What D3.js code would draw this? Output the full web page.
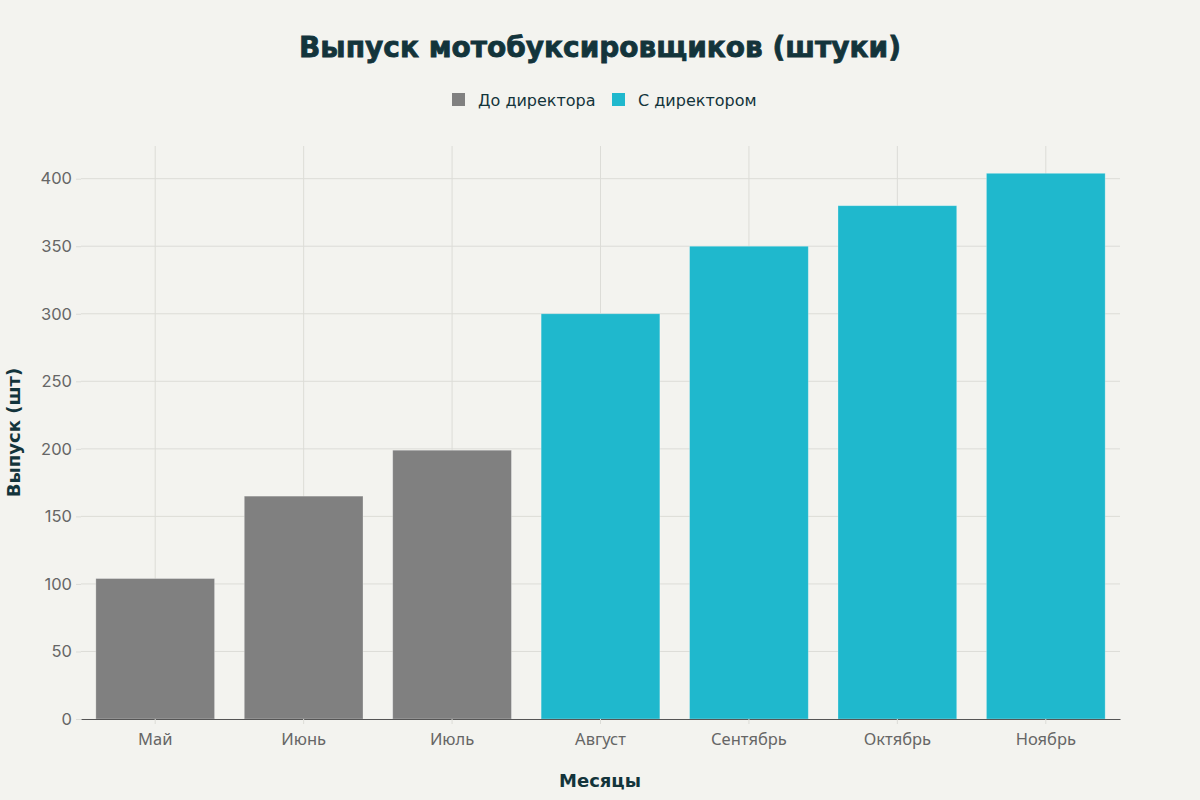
<!DOCTYPE html>
<html><head><meta charset="utf-8">
<script src="https://cdn.jsdelivr.net/npm/d3@7/dist/d3.min.js"></script>
<style>body{margin:0;background:#F3F3EF;}svg{display:block;}</style>
</head><body>
<script>
const months = ["Май","Июнь","Июль","Август","Сентябрь","Октябрь","Ноябрь"];
const values = [104,165,199,300,350,380,404];
const groups = ["До директора","До директора","До директора","С директором","С директором","С директором","С директором"];
const seriesNames = ["До директора","С директором"];
const seriesColors = ["#808080","#1FB8CD"];
const yTicks = [0,50,100,150,200,250,300,350,400];

const W=1200,H=800;
const m={l:81,r:80,t:146,b:81};
const svg=d3.select("body").append("svg").attr("width",W).attr("height",H);
svg.append("rect").attr("width",W).attr("height",H).attr("fill","#F3F3EF");

const x=d3.scaleBand().domain(months).range([m.l,W-m.r]).paddingInner(0.2).paddingOuter(0.1);
const y=d3.scaleLinear().domain([0,424.2]).range([H-m.b,m.t]);
const color=d3.scaleOrdinal().domain(seriesNames).range(seriesColors);

const g=svg.append("g");
g.selectAll(".hg").data(yTicks.filter(d=>d>0)).join("line")
 .attr("x1",m.l).attr("x2",W-m.r).attr("y1",d=>y(d)).attr("y2",d=>y(d))
 .attr("stroke","#DCDCD7").attr("stroke-width",1);
g.selectAll(".vg").data(months).join("line")
 .attr("x1",d=>x(d)+x.bandwidth()/2).attr("x2",d=>x(d)+x.bandwidth()/2)
 .attr("y1",m.t).attr("y2",H-m.b)
 .attr("stroke","#DCDCD7").attr("stroke-width",1);

g.selectAll(".bar").data(months).join("rect")
 .attr("x",d=>x(d)).attr("width",x.bandwidth())
 .attr("y",(d,i)=>y(values[i])).attr("height",(d,i)=>y(0)-y(values[i]))
 .attr("fill",(d,i)=>color(groups[i]))
 .attr("stroke","rgba(255,255,255,0.35)").attr("stroke-width",0.8);

const xa=svg.append("g").attr("transform",`translate(0,${y(0)})`)
 .call(d3.axisBottom(x).tickSize(5).tickPadding(9).tickSizeOuter(0));
xa.select(".domain").attr("stroke","#555").attr("stroke-width",1.2);
xa.selectAll(".tick line").attr("stroke","#DCDCD7");
xa.selectAll("text").attr("fill","#666").attr("font-family","Noto Sans, DejaVu Sans, sans-serif").attr("font-size",16.5);

const ya=svg.append("g").attr("transform",`translate(${m.l},0)`)
 .call(d3.axisLeft(y).tickValues(yTicks).tickSize(5).tickPadding(4).tickSizeOuter(0));
ya.select(".domain").remove();
ya.selectAll(".tick line").attr("stroke","#DCDCD7");
ya.selectAll("text").attr("fill","#666").attr("font-family","Inter, Lato, sans-serif").attr("font-size",16.5);

svg.append("text").attr("x",W/2).attr("y",57).attr("text-anchor","middle")
 .attr("font-family","DejaVu Sans, sans-serif").attr("font-weight","bold").attr("font-size",28)
 .attr("fill","#13343B").attr("stroke","#13343B").attr("stroke-width",0.8)
 .text("Выпуск мотобуксировщиков (штуки)");

const leg=svg.append("g");
const legX=[452,612];
seriesNames.forEach((s,i)=>{
  leg.append("rect").attr("x",legX[i]).attr("y",93).attr("width",13).attr("height",13).attr("fill",color(s));
  leg.append("text").attr("x",legX[i]+26).attr("y",105.5)
   .attr("font-family","DejaVu Sans, sans-serif").attr("font-size",16).attr("fill","#13343B").text(s);
});

svg.append("text").attr("x",600).attr("y",787).attr("text-anchor","middle")
 .attr("font-family","DejaVu Sans, sans-serif").attr("font-weight","bold").attr("font-size",18)
 .attr("fill","#13343B").text("Месяцы");
svg.append("text").attr("transform",`translate(20,${(m.t+H-m.b)/2}) rotate(-90)`).attr("text-anchor","middle")
 .attr("font-family","DejaVu Sans, sans-serif").attr("font-weight","bold").attr("font-size",18)
 .attr("fill","#13343B").text("Выпуск (шт)");
</script>
</body></html>
